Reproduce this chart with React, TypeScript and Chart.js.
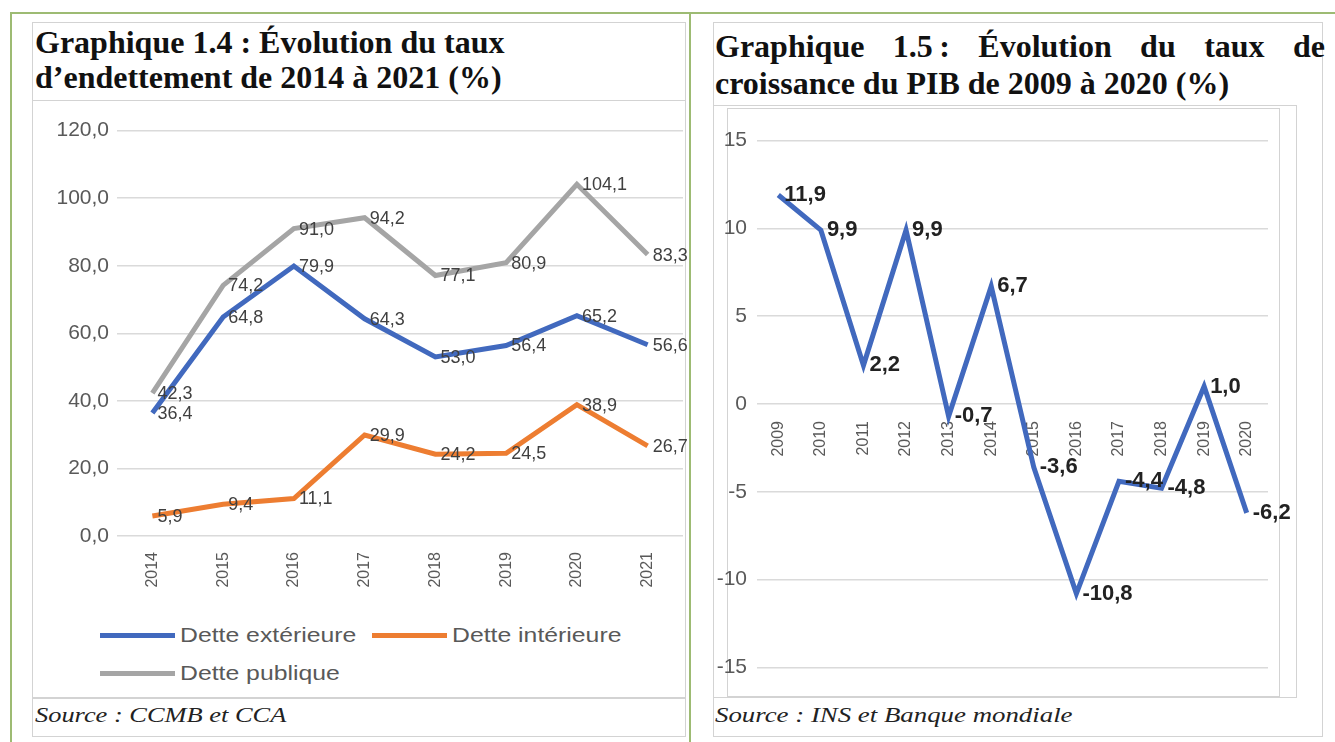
import React, { useEffect, useRef } from "react";
import { Chart, registerables } from "chart.js";

Chart.register(...registerables);

// ---------- Data ----------
const debtYears = ["2014", "2015", "2016", "2017", "2018", "2019", "2020", "2021"];
const detteExterieure = [36.4, 64.8, 79.9, 64.3, 53.0, 56.4, 65.2, 56.6];
const detteInterieure = [5.9, 9.4, 11.1, 29.9, 24.2, 24.5, 38.9, 26.7];
const dettePublique = [42.3, 74.2, 91.0, 94.2, 77.1, 80.9, 104.1, 83.3];
const debtSeriesNames = ["Dette extérieure", "Dette intérieure", "Dette publique"];

const gdpYears = ["2009", "2010", "2011", "2012", "2013", "2014", "2015", "2016", "2017", "2018", "2019", "2020"];
const croissancePIB = [11.9, 9.9, 2.2, 9.9, -0.7, 6.7, -3.6, -10.8, -4.4, -4.8, 1.0, -6.2];

const debtTicks = { min: 0, max: 120, step: 20 };
const gdpTicks = { min: -15, max: 15, step: 5 };

// ---------- Styles ----------
const BLUE = "#4169BE";
const ORANGE = "#ED7D31";
const GRAY = "#A5A5A5";
const GRID = "#DADADA";
const TICK = "#595959";
const SANS = "'Liberation Sans', Arial, sans-serif";
const SERIF = "'Liberation Serif', 'Times New Roman', serif";

const fmt1 = (v: number) => v.toFixed(1).replace(".", ",");

const pointLabels = {
  id: "pointLabels",
  afterDatasetsDraw(chart: any, _args: any, opts: any) {
    const ctx = chart.ctx;
    chart.data.datasets.forEach((ds: any, di: number) => {
      const meta = chart.getDatasetMeta(di);
      meta.data.forEach((pt: any, i: number) => {
        const v = ds.data[i];
        ctx.save();
        ctx.font = opts.font;
        ctx.fillStyle = opts.color;
        ctx.textAlign = "left";
        ctx.textBaseline = "middle";
        ctx.fillText(fmt1(v), pt.x + opts.dx, pt.y + opts.dy);
        ctx.restore();
      });
    });
  },
};

function DebtChart() {
  const ref = useRef<HTMLCanvasElement>(null);
  useEffect(() => {
    const colors = [BLUE, ORANGE, GRAY];
    const series = [detteExterieure, detteInterieure, dettePublique];
    const chart = new Chart(ref.current!, {
      type: "line",
      data: {
        labels: debtYears,
        datasets: series.map((d, i) => ({
          label: debtSeriesNames[i],
          data: d,
          borderColor: colors[i],
          backgroundColor: colors[i],
          borderWidth: 5,
          pointRadius: 0,
          tension: 0,
        })),
      },
      options: {
        animation: false,
        responsive: true,
        maintainAspectRatio: false,
        layout: { padding: { left: 0, right: 7, top: 17, bottom: 0 } },
        plugins: {
          legend: { display: false },
          tooltip: { enabled: false },
          pointLabels: { font: `18px ${SANS}`, color: "#404040", dx: 5, dy: 1 },
        } as any,
        scales: {
          x: {
            offset: true,
            grid: { display: false },
            border: { display: false },
            ticks: {
              autoSkip: false,
              minRotation: 90,
              maxRotation: 90,
              padding: 8,
              color: TICK,
              font: { family: SANS, size: 16 },
            },
            afterFit: (s: any) => {
              s.height = 70;
            },
          },
          y: {
            min: debtTicks.min,
            max: debtTicks.max,
            grid: { color: GRID, lineWidth: 1.5, drawTicks: false },
            border: { display: false },
            ticks: {
              stepSize: debtTicks.step,
              padding: 8,
              color: TICK,
              font: { family: SANS, size: 21 },
              callback: (v: any) => fmt1(Number(v)),
            },
            afterFit: (s: any) => {
              s.width = 87;
            },
          },
        },
      },
      plugins: [pointLabels],
    });
    return () => chart.destroy();
  }, []);
  return <canvas ref={ref} />;
}

function GdpChart() {
  const ref = useRef<HTMLCanvasElement>(null);
  useEffect(() => {
    const chart = new Chart(ref.current!, {
      type: "line",
      data: {
        labels: gdpYears,
        datasets: [
          {
            label: "PIB",
            data: croissancePIB,
            borderColor: BLUE,
            backgroundColor: BLUE,
            borderWidth: 5,
            pointRadius: 0,
            tension: 0,
          },
        ],
      },
      options: {
        animation: false,
        responsive: true,
        maintainAspectRatio: false,
        layout: { padding: { left: 0, right: 52, top: 20, bottom: 14 } },
        plugins: {
          legend: { display: false },
          tooltip: { enabled: false },
          pointLabels: { font: `bold 22px ${SANS}`, color: "#222222", dx: 6, dy: 0 },
        } as any,
        scales: {
          x: {
            position: { y: 0 } as any,
            offset: true,
            grid: { display: false },
            border: { display: false },
            ticks: {
              autoSkip: false,
              minRotation: 90,
              maxRotation: 90,
              padding: 9,
              color: TICK,
              font: { family: SANS, size: 16 },
            },
          },
          y: {
            min: gdpTicks.min,
            max: gdpTicks.max,
            grid: { color: GRID, lineWidth: 1.5, drawTicks: false },
            border: { display: false },
            ticks: {
              stepSize: gdpTicks.step,
              padding: 10,
              color: TICK,
              font: { family: SANS, size: 21 },
              callback: (v: any) => String(v),
            },
            afterFit: (s: any) => {
              s.width = 57;
            },
          },
        },
      },
      plugins: [pointLabels],
    });
    return () => chart.destroy();
  }, []);
  return <canvas ref={ref} />;
}

const abs = (l: number, t: number, w: number, h: number): React.CSSProperties => ({
  position: "absolute",
  left: l,
  top: t,
  width: w,
  height: h,
});

const stretch = (k: number): React.CSSProperties => ({
  display: "inline-block",
  transform: `scaleX(${k})`,
  transformOrigin: "left center",
  whiteSpace: "nowrap",
});

function LegendItem({ color, label, x, y }: { color: string; label: string; x: number; y: number }) {
  return (
    <div style={{ position: "absolute", left: x, top: y - 14, height: 28, display: "flex", alignItems: "center" }}>
      <div style={{ width: 75, height: 5, background: color, marginRight: 5 }} />
      <span style={{ ...stretch(1.18), font: `21px ${SANS}`, color: TICK }}>{label}</span>
    </div>
  );
}

export default function App() {
  const frame = "1px solid #D3D3D3";
  const green = "#9DBB73";
  return (
    <div style={{ position: "absolute", left: 0, top: 0, width: 1335, height: 742, background: "#FFFFFF", overflow: "hidden" }}>
      {/* green page borders */}
      <div style={{ ...abs(10, 12, 1325, 2), background: green }} />
      <div style={{ ...abs(10, 12, 2, 730), background: green }} />
      <div style={{ ...abs(689, 12, 2, 730), background: green }} />

      {/* left panel frames */}
      <div style={{ ...abs(32, 22, 654, 715), border: frame, boxSizing: "border-box" }} />
      <div style={{ ...abs(32, 100, 654, 1), background: "#D3D3D3" }} />
      <div style={{ ...abs(32, 697, 654, 2), background: "#D3D3D3" }} />

      {/* right panel frames */}
      <div style={{ ...abs(713, 22, 610, 715), border: frame, boxSizing: "border-box" }} />
      <div style={{ ...abs(713, 105, 584, 593), border: frame, boxSizing: "border-box" }} />
      <div style={{ ...abs(727, 108, 553, 589), border: frame, boxSizing: "border-box" }} />

      {/* titles */}
      <div style={{ ...abs(35, 25, 645, 74), font: `bold 32px ${SERIF}`, lineHeight: "35px", color: "#111" }}>
        Graphique 1.4 : Évolution du taux
        <br />
        d’endettement de 2014 à 2021 (%)
      </div>
      <div style={{ ...abs(715, 28, 610, 74), font: `bold 32px ${SERIF}`, lineHeight: "37px", color: "#111" }}>
        <div style={{ textAlign: "justify", textAlignLast: "justify" as any, whiteSpace: "nowrap" as any }}>
          Graphique <span style={{ display: "inline-block" }}>1.5{"\u2009"}:</span> Évolution du taux de
        </div>
        <div style={{ whiteSpace: "nowrap" }}>croissance du PIB de 2009 à 2020 (%)</div>
      </div>

      {/* charts */}
      <div style={abs(30, 110, 660, 496)}>
        <DebtChart />
      </div>
      <div style={abs(700, 118, 620, 572)}>
        <GdpChart />
      </div>

      {/* legend */}
      <LegendItem color={BLUE} label={debtSeriesNames[0]} x={100} y={635} />
      <LegendItem color={ORANGE} label={debtSeriesNames[1]} x={372} y={635} />
      <LegendItem color={GRAY} label={debtSeriesNames[2]} x={100} y={673} />

      {/* sources */}
      <div style={{ ...abs(35, 702, 600, 28), font: `italic 22px ${SERIF}`, color: "#222" }}>
        <span style={stretch(1.2)}>Source : CCMB et CCA</span>
      </div>
      <div style={{ ...abs(715, 702, 600, 28), font: `italic 22px ${SERIF}`, color: "#222" }}>
        <span style={stretch(1.22)}>Source : INS et Banque mondiale</span>
      </div>
    </div>
  );
}
